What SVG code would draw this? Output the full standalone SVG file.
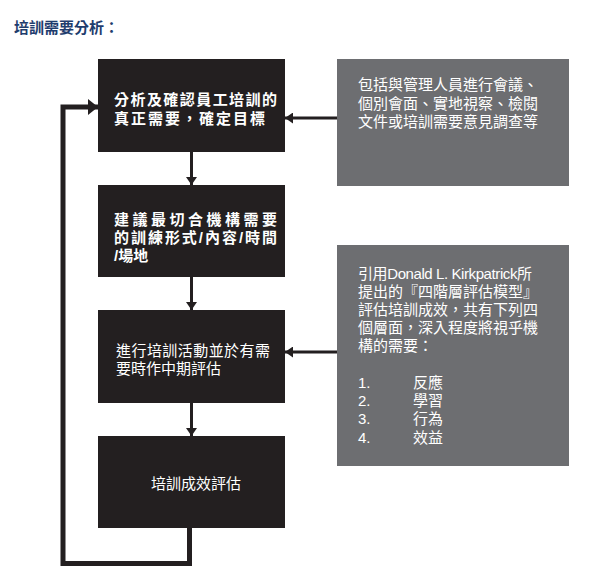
<svg xmlns="http://www.w3.org/2000/svg" width="616" height="586" viewBox="0 0 616 586">
<style>
text{font-family:"Liberation Sans","Noto Sans CJK TC",sans-serif;}
.t{fill:#ffffff;font-size:15px;}
.b{font-weight:bold;}
.box{fill:#231f20;}
.gbox{fill:#6d6e71;}
.ln{stroke:#231f20;fill:none;}
</style>
<defs>
<marker id="ah" markerUnits="userSpaceOnUse" markerWidth="8" markerHeight="11" refX="8" refY="5.5" orient="auto"><path d="M0,0 L8,5.5 L0,11 z" fill="#231f20"/></marker>
<marker id="ahb" markerUnits="userSpaceOnUse" markerWidth="10" markerHeight="16" refX="10" refY="8" orient="auto"><path d="M0,0 L10,8 L0,16 z" fill="#231f20"/></marker>
</defs>
<rect width="616" height="586" fill="#ffffff"/>
<text x="14" y="33" font-size="15" font-weight="bold" fill="#1f3d6e">培訓需要分析：</text>

<g id="connectors">
<line class="ln" stroke-width="3" x1="191.5" y1="152" x2="191.5" y2="185" marker-end="url(#ah)"/>
<line class="ln" stroke-width="3" x1="191.5" y1="277" x2="191.5" y2="310" marker-end="url(#ah)"/>
<line class="ln" stroke-width="3" x1="191.5" y1="403" x2="191.5" y2="436" marker-end="url(#ah)"/>
<line class="ln" stroke-width="3" x1="337" y1="118" x2="285" y2="118" marker-end="url(#ah)"/>
<line class="ln" stroke-width="3" x1="337" y1="352" x2="285" y2="352" marker-end="url(#ah)"/>
<path class="ln" stroke-width="5" d="M189.5,528 V563.5 H63 V107 H98" marker-end="url(#ahb)"/>
</g>

<g id="n1">
<rect class="box" x="98" y="59" width="187" height="93"/>
<text class="t b" x="114" y="105" font-size="14" textLength="163" lengthAdjust="spacing">分析及確認員工培訓的</text>
<text class="t b" x="114" y="124" font-size="14" letter-spacing="2">真正需要，確定目標</text>
</g>
<g id="n2">
<rect class="box" x="98" y="185" width="187" height="92"/>
<text class="t b" x="114" y="225" font-size="14" textLength="163" lengthAdjust="spacing">建議最切合機構需要</text>
<text class="t b" x="114" y="243" font-size="14" textLength="163" lengthAdjust="spacing">的訓練形式/內容/時間</text>
<text class="t b" x="114" y="261" font-size="14">/場地</text>
</g>
<g id="n3">
<rect class="box" x="98" y="310" width="187" height="93"/>
<text class="t" x="116" y="356" textLength="154" lengthAdjust="spacing">進行培訓活動並於有需</text>
<text class="t" x="116" y="374">要時作中期評估</text>
</g>
<g id="n4">
<rect class="box" x="98" y="436" width="187" height="92"/>
<text class="t" x="151" y="489">培訓成效評估</text>
</g>
<g id="g1">
<rect class="gbox" x="337" y="59" width="232" height="127"/>
<text class="t" x="358" y="90">包括與管理人員進行會議、</text>
<text class="t" x="358" y="109">個別會面、實地視察、檢閱</text>
<text class="t" x="358" y="127">文件或培訓需要意見調查等</text>
</g>
<g id="g2">
<rect class="gbox" x="337" y="245" width="232" height="221"/>
<text class="t" x="358" y="279" textLength="174" lengthAdjust="spacing">引用Donald L. Kirkpatrick所</text>
<text class="t" x="358" y="297">提出的『四階層評估模型』</text>
<text class="t" x="358" y="315">評估培訓成效，共有下列四</text>
<text class="t" x="358" y="333">個層面，深入程度將視乎機</text>
<text class="t" x="358" y="351">構的需要：</text>
<text class="t" x="358" y="388">1.</text><text class="t" x="413" y="388">反應</text>
<text class="t" x="358" y="406">2.</text><text class="t" x="413" y="406">學習</text>
<text class="t" x="358" y="424">3.</text><text class="t" x="413" y="424">行為</text>
<text class="t" x="358" y="443">4.</text><text class="t" x="413" y="443">效益</text>
</g>
</svg>
